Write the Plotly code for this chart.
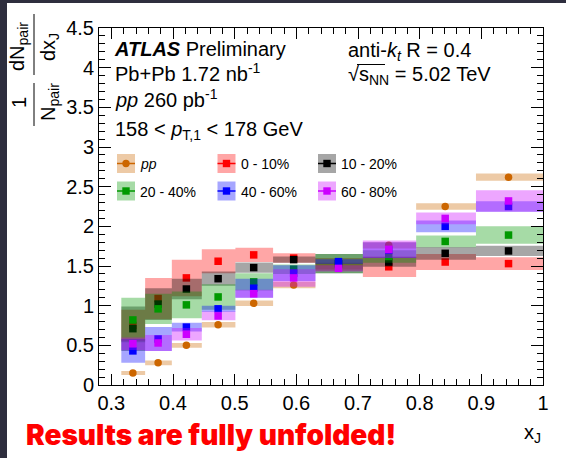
import plotly.graph_objects as go
import numpy as np

# ---------------- data ----------------
bin_edges = [0.3162, 0.3548, 0.3981, 0.4467, 0.5012, 0.5623, 0.6310, 0.7079, 0.7943, 0.8913, 1.0]

pp_vals = [0.15, 0.28, 0.50, 0.76, 1.03, 1.26, 1.50, 1.76, 2.25, 2.62]
pp_sys = [0.025, 0.03, 0.03, 0.035, 0.035, 0.04, 0.04, 0.04, 0.04, 0.045]

c0_10_vals = [0.75, 1.09, 1.35, 1.56, 1.64, 1.60, 1.52, 1.49, 1.55, 1.53]
c0_10_sys = [0.20, 0.26, 0.23, 0.15, 0.09, 0.06, 0.08, 0.13, 0.10, 0.08]

c10_20_vals = [0.71, 1.02, 1.21, 1.34, 1.48, 1.58, 1.53, 1.55, 1.66, 1.69]
c10_20_sys = [0.28, 0.20, 0.13, 0.09, 0.065, 0.04, 0.12, 0.06, 0.08, 0.065]

c20_40_vals = [0.82, 0.96, 1.01, 1.11, 1.30, 1.46, 1.53, 1.62, 1.81, 1.89]
c20_40_sys = [0.28, 0.19, 0.17, 0.16, 0.11, 0.06, 0.12, 0.08, 0.075, 0.11]

c40_60_vals = [0.43, 0.58, 0.73, 0.96, 1.22, 1.41, 1.555, 1.70, 2.00, 2.25]
c40_60_sys = [0.15, 0.15, 0.055, 0.04, 0.12, 0.10, 0.03, 0.10, 0.075, 0.065]

c60_80_vals = [0.52, 0.53, 0.64, 0.87, 1.15, 1.35, 1.47, 1.71, 2.10, 2.32]
c60_80_sys = [0.08, 0.10, 0.08, 0.055, 0.05, 0.11, 0.04, 0.11, 0.075, 0.135]

series_labels = ["<i>pp</i>", "0 - 10%", "10 - 20%", "20 - 40%", "40 - 60%", "60 - 80%"]

x_ticks = [0.3, 0.4, 0.5, 0.6, 0.7, 0.8, 0.9, 1.0]
x_tick_labels = ["0.3", "0.4", "0.5", "0.6", "0.7", "0.8", "0.9", "1"]
y_ticks = [0, 0.5, 1, 1.5, 2, 2.5, 3, 3.5, 4, 4.5]
y_tick_labels = ["0", "0.5", "1", "1.5", "2", "2.5", "3", "3.5", "4", "4.5"]

# ---------------- style ----------------
FONT = "Liberation Sans"
FRAME = "rgb(46,46,62)"
OX, OY = 7, 3                      # dark screenshot frame (left, top)
W, H = 566 - OX, 458 - OY          # white figure area
ML, MR, MT, MB = 99 - OX, 23, 28 - OY, 73
PW, PH = W - ML - MR, H - MT - MB


def px(x):
    """window pixel -> paper x"""
    return (x - OX - ML) / PW


def py(y):
    """window pixel -> paper y"""
    return (H - MB - (y - OY)) / PH


series = [
    (pp_vals, pp_sys, (204, 102, 0), "circle"),
    (c0_10_vals, c0_10_sys, (255, 0, 0), "square"),
    (c10_20_vals, c10_20_sys, (0, 0, 0), "square"),
    (c20_40_vals, c20_40_sys, (0, 153, 0), "square"),
    (c40_60_vals, c40_60_sys, (0, 0, 255), "square"),
    (c60_80_vals, c60_80_sys, (204, 0, 255), "square"),
]
ALPHA = 0.35

edges = np.array(bin_edges)
lo, hi = edges[:-1], edges[1:]
centers = np.sqrt(lo * hi)

fig = go.Figure()
for vals, sys, col, sym in series:
    v = np.array(vals)
    e = np.array(sys)
    bx, by = [], []
    for i in range(len(v)):
        bx += [lo[i], hi[i], hi[i], lo[i], lo[i], None]
        by += [v[i] - e[i], v[i] - e[i], v[i] + e[i], v[i] + e[i], v[i] - e[i], None]
    fig.add_trace(go.Scatter(
        x=bx, y=by, mode="lines", fill="toself",
        fillcolor="rgba(%d,%d,%d,%.2f)" % (col + (ALPHA,)),
        line=dict(width=0), hoverinfo="skip", showlegend=False))
    fig.add_trace(go.Scatter(
        x=centers, y=v, mode="markers",
        marker=dict(symbol=sym, size=7.5, color="rgb(%d,%d,%d)" % col, line=dict(width=0)),
        showlegend=False))

annotations = []
shapes = []


def text(x, y, s, size=20, anchor="left", color="black", **kw):
    annotations.append(dict(x=px(x), y=py(y), xref="paper", yref="paper", text=s,
                            showarrow=False, xanchor=anchor, yanchor="middle",
                            font=dict(family=FONT, size=size, color=color), **kw))


text(112, 49, "<b><i>ATLAS</i></b> Preliminary")
text(113, 72, "Pb+Pb 1.72 nb<sup>-1</sup>")
text(113, 99, "<i>pp</i> 260 pb<sup>-1</sup>")
text(113, 131, "158 &lt; <i>p</i><sub>T,1</sub> &lt; 178 GeV")
text(346, 51, "anti-<i>k</i><sub><i>t</i></sub> R = 0.4")
text(346, 75, "√s<sub>NN</sub> = 5.02 TeV")
shapes.append(dict(type="line", xref="paper", yref="paper", x0=px(357), x1=px(385),
                   y0=py(64.5), y1=py(64.5), line=dict(color="black", width=1)))

# y-axis title as a fraction (rotated)
text(18, 47, "dN<sub>pair</sub>", anchor="center", textangle=-90)
text(49, 47, "dx<sub>J</sub>", anchor="center", textangle=-90)
shapes.append(dict(type="line", xref="paper", yref="paper", x0=px(34), x1=px(34),
                   y0=py(14), y1=py(75), line=dict(color="black", width=1)))
text(19, 103, "1", anchor="center", textangle=-90)
text(49, 102, "N<sub>pair</sub>", anchor="center", textangle=-90)
shapes.append(dict(type="line", xref="paper", yref="paper", x0=px(34), x1=px(34),
                   y0=py(83), y1=py(126), line=dict(color="black", width=1)))

# x-axis title
text(543, 433, "x<sub>J</sub>", anchor="right")

# red message
annotations.append(dict(x=px(24), y=py(435), xref="paper", yref="paper",
                        text="Results are fully unfolded!", showarrow=False,
                        xanchor="left", yanchor="middle",
                        font=dict(family="Inter", size=28, color="rgb(255,0,0)", weight=900)))

# legend (manual, ROOT style)
leg_pos = [(126, 163.5), (226.5, 163.5), (327, 163.5), (126, 191), (226.5, 191), (327, 191)]
for (cx, cy), lab, (vals, sys, col, sym) in zip(leg_pos, series_labels, series):
    shapes.append(dict(type="rect", xref="paper", yref="paper",
                       x0=px(cx - 9), x1=px(cx + 9), y0=py(cy + 9.5), y1=py(cy - 9.5),
                       fillcolor="rgba(%d,%d,%d,%.2f)" % (col + (ALPHA,)), line=dict(width=0)))
    shapes.append(dict(type="line", xref="paper", yref="paper",
                       x0=px(cx - 9), x1=px(cx + 9), y0=py(cy), y1=py(cy),
                       line=dict(color="rgb(%d,%d,%d)" % col, width=1.5)))
    shapes.append(dict(type="circle" if sym == "circle" else "rect", xref="paper", yref="paper",
                       x0=px(cx - 3.7), x1=px(cx + 3.7), y0=py(cy + 3.7), y1=py(cy - 3.7),
                       fillcolor="rgb(%d,%d,%d)" % col, line=dict(width=0)))
    text(cx + 12, cy + 0.5, lab, size=14)

axis_common = dict(showline=True, linecolor="black", linewidth=1, mirror="ticks",
                   ticks="inside", tickcolor="black", tickwidth=1, showgrid=False,
                   zeroline=False, tickfont=dict(family=FONT, size=20, color="black"))

fig.update_layout(
    width=W, height=H,
    margin=dict(l=ML, r=MR, t=MT, b=MB, pad=0),
    paper_bgcolor="white", plot_bgcolor="white",
    showlegend=False,
    xaxis=dict(range=[0.28, 1.0], tickvals=x_ticks, ticktext=x_tick_labels, ticklen=11,
               minor=dict(dtick=0.02, tick0=0.28, ticklen=6, ticks="inside", tickcolor="black", showgrid=False),
               **axis_common),
    yaxis=dict(range=[0, 4.5], tickvals=y_ticks, ticktext=y_tick_labels, ticklen=12,
               ticklabelstandoff=0,
               minor=dict(dtick=0.1, tick0=0, ticklen=6, ticks="inside", tickcolor="black", showgrid=False),
               **axis_common),
    annotations=annotations,
    shapes=shapes,
)

post = ("document.body.style.margin='0';"
        "document.body.style.overflow='hidden';"
        "document.body.style.background='%s';"
        "var d=document.getElementsByClassName('plotly-graph-div')[0];"
        "d.style.marginLeft='%dpx';d.style.marginTop='%dpx';" % (FRAME, OX, OY))

fig.write_html("out.html", post_script=post, config={"displayModeBar": False})
